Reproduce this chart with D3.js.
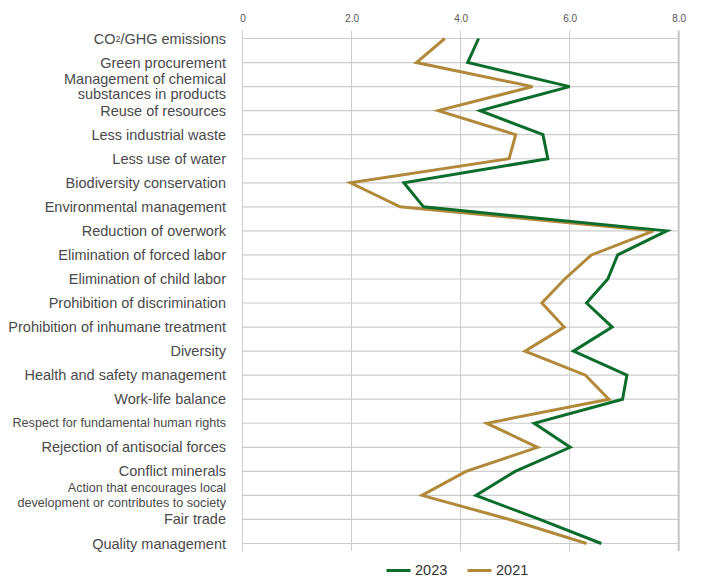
<!DOCTYPE html>
<html>
<head>
<meta charset="utf-8">
<script src="https://cdn.jsdelivr.net/npm/d3@7"></script>
<style>
  html, body { margin: 0; padding: 0; background: #fff; }
  svg { display: block; }
</style>
</head>
<body>
<svg id="chart" width="701" height="578"></svg>
<script>
// Survey items (top to bottom); "\n" splits a label over two lines
const categories = [
  "CO2/GHG emissions",
  "Green procurement",
  "Management of chemical\nsubstances in products",
  "Reuse of resources",
  "Less industrial waste",
  "Less use of water",
  "Biodiversity conservation",
  "Environmental management",
  "Reduction of overwork",
  "Elimination of forced labor",
  "Elimination of child labor",
  "Prohibition of discrimination",
  "Prohibition of inhumane treatment",
  "Diversity",
  "Health and safety management",
  "Work-life balance",
  "Respect for fundamental human rights",
  "Rejection of antisocial forces",
  "Conflict minerals",
  "Action that encourages local\ndevelopment or contributes to society",
  "Fair trade",
  "Quality management"
];
// Labels set in a smaller type size
const smallLabels = [
  "Respect for fundamental human rights",
  "Action that encourages local\ndevelopment or contributes to society"
];

const values2023 = [4.33, 4.13, 6.0, 4.36, 5.51, 5.6, 2.96, 3.32, 7.78, 6.88, 6.7, 6.31,
                    6.78, 6.07, 7.05, 6.97, 5.35, 6.01, 5.0, 4.28, 5.45, 6.58];
const values2021 = [3.71, 3.19, 5.32, 3.59, 5.01, 4.89, 1.98, 2.89, 7.54, 6.4, 5.91, 5.49,
                    5.9, 5.18, 6.29, 6.72, 4.48, 5.41, 4.1, 3.29, 4.9, 6.31];

const tickValues = [0, 2, 4, 6, 8];
const tickLabels = ["0", "2.0", "4.0", "6.0", "8.0"];

const seriesNames = ["2023", "2021"];
const seriesColors = { "2023": "#0b6c2c", "2021": "#b1893b" };

const svg = d3.select("#chart");
const font = "'Liberation Sans', Arial, sans-serif";

const x = d3.scaleLinear().domain([0, 8]).range([242.5, 678.7]);
const y = d3.scalePoint().domain(categories).range([38.5, 543.5]);

// Vertical grid lines + top tick labels
const gridTop = 30.5, gridBottom = 551;
const xAxis = d3.axisTop(x)
  .tickValues(tickValues)
  .tickFormat((d, i) => tickLabels[i])
  .tickSize(0)
  .tickPadding(0);

const gx = svg.append("g").attr("transform", `translate(0,${gridTop})`).call(xAxis);
gx.select(".domain").remove();
gx.selectAll("text")
  .attr("y", -9)
  .attr("font-family", font)
  .attr("font-size", 10)
  .attr("fill", "#555");

svg.append("g").selectAll("line")
  .data(tickValues)
  .join("line")
  .attr("x1", d => x(d)).attr("x2", d => x(d))
  .attr("y1", gridTop).attr("y2", gridBottom)
  .attr("stroke", d => d === 8 ? "#c4c4c4" : "#cccccc")
  .attr("stroke-width", d => d === 8 ? 2 : 1);

// Horizontal grid lines, one per item
svg.append("g").selectAll("line")
  .data(categories)
  .join("line")
  .attr("x1", x(0)).attr("x2", x(8))
  .attr("y1", d => y(d)).attr("y2", d => y(d))
  .attr("stroke", "#cccccc")
  .attr("stroke-width", 1.2);

// Category labels
const labels = svg.append("g")
  .attr("font-family", font)
  .attr("fill", "#4a4a4a")
  .attr("text-anchor", "end");

categories.forEach(c => {
  const small = smallLabels.includes(c);
  const lines = c.split("\n");
  const t = labels.append("text")
    .attr("x", 226)
    .attr("font-size", small ? 12.6 : 14.5);
  lines.forEach((ln, i) => {
    const dy = lines.length === 1 ? 0 : (i === 0 ? -7.5 : 7.5);
    const ts = t.append("tspan")
      .attr("x", 226)
      .attr("y", y(c) + dy)
      .attr("dominant-baseline", "central");
    if (ln.startsWith("CO2")) {
      ts.text("CO");
      ts.append("tspan").attr("font-size", 9).text("2");
      ts.append("tspan").text(ln.slice(3));
    } else {
      ts.text(ln);
    }
  });
});

// Series lines (2021 under 2023)
const line = d3.line()
  .x(d => x(d.v))
  .y(d => y(d.c));

const series = {
  "2023": categories.map((c, i) => ({ c, v: values2023[i] })),
  "2021": categories.map((c, i) => ({ c, v: values2021[i] }))
};

["2021", "2023"].forEach(name => {
  svg.append("path")
    .datum(series[name])
    .attr("d", line)
    .attr("fill", "none")
    .attr("stroke", seriesColors[name])
    .attr("stroke-width", 3)
    .attr("stroke-linejoin", "miter");
});

// Legend
const legend = svg.append("g").attr("transform", "translate(386.5,570.5)");
const legendX = [0, 81];
seriesNames.forEach((name, i) => {
  const g = legend.append("g").attr("transform", `translate(${legendX[i]},0)`);
  g.append("line")
    .attr("x1", 0).attr("x2", 24)
    .attr("y1", 0).attr("y2", 0)
    .attr("stroke", seriesColors[name])
    .attr("stroke-width", 3);
  g.append("text")
    .attr("x", 28.5)
    .attr("y", 4)
    .attr("font-family", font)
    .attr("font-size", 14.5)
    .attr("fill", "#333")
    .text(name);
});
</script>
</body>
</html>
